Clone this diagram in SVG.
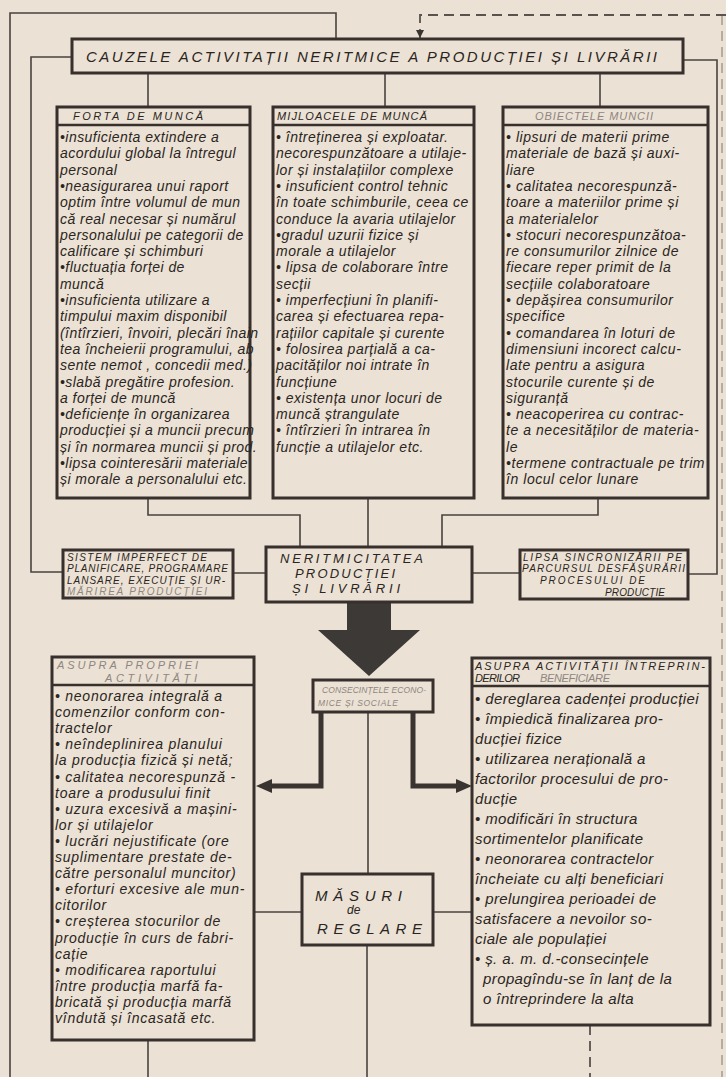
<svg xmlns="http://www.w3.org/2000/svg" width="726" height="1077" viewBox="0 0 726 1077">
<style>
.ln{fill:none;stroke:#4a433f;stroke-width:1.6}
.dl{fill:none;stroke:#5a524d;stroke-width:1.8;stroke-dasharray:10 6}
.bx{fill:none;stroke:#37302d;stroke-width:3}
.dv{stroke:#37302d;stroke-width:2.5}
.ta{fill:none;stroke:#3a3431;stroke-width:5}
text{font-family:'Liberation Sans',Arial,sans-serif;font-style:italic;fill:#2a2522}
.b{font-size:14px;letter-spacing:0.8px}
.h{font-size:11px}
.c{font-size:10px}
.f{fill:#8e8680}
</style>
<defs>
<marker id="ah" viewBox="0 0 10 10" refX="10" refY="5" markerWidth="8" markerHeight="8" markerUnits="userSpaceOnUse" orient="auto"><path d="M0,0L10,5L0,10z" fill="#3a3431"/></marker>
<marker id="ahb" viewBox="0 0 16 14" refX="6" refY="7" markerWidth="16" markerHeight="14" markerUnits="userSpaceOnUse" orient="auto"><path d="M0,0L16,7L0,14z" fill="#3a3431"/></marker>
</defs>
<rect width="726" height="1077" fill="#ebe1d4"/>
<g id="connectors">
<polyline class="ln" points="10,1077 10,13 336,13 336,39"/>
<polyline class="ln" points="72,57 31,57 31,572 63,572"/>
<polyline class="ln" points="683,60 717,60 717,574 688,574"/>
<polyline class="dl" points="726,15 420,15 420,38" marker-end="url(#ah)"/>
<line class="dl" x1="722" y1="15" x2="722" y2="1077" style="stroke-width:1.2;opacity:0.6"/>
<line class="ln" x1="148" y1="73" x2="148" y2="107"/>
<line class="ln" x1="385" y1="73" x2="385" y2="107"/>
<line class="ln" x1="600" y1="73" x2="600" y2="107"/>
<polyline class="ln" points="148,498 148,515 300,515 300,547"/>
<line class="ln" x1="368" y1="498" x2="368" y2="547"/>
<polyline class="ln" points="598,498 598,515 442,515 442,547"/>
<line class="ln" x1="233" y1="573" x2="266" y2="573"/>
<line class="ln" x1="472" y1="573" x2="520" y2="573"/>
<polygon points="347,602 391,602 391,630 420,630 369,676 318,630 347,630" fill="#3d3937"/>
<polyline class="ta" points="321,712 321,786 266,786" marker-end="url(#ahb)"/>
<polyline class="ta" points="413,712 413,786 462,786" marker-end="url(#ahb)"/>
<line class="ln" x1="368" y1="712" x2="368" y2="874"/>
<line class="ln" x1="254" y1="912" x2="302" y2="912"/>
<line class="ln" x1="433" y1="912" x2="472" y2="912"/>
<line class="ln" x1="367" y1="945" x2="367" y2="1077"/>
<line class="ln" x1="148" y1="1040" x2="148" y2="1077"/>
<line class="dl" x1="590" y1="1025" x2="590" y2="1077"/>
</g>
<g id="title">
<rect class="bx" x="72" y="39" width="611" height="34"/>
<text x="86" y="62" font-size="15" textLength="571" lengthAdjust="spacing">CAUZELE ACTIVITAȚII NERITMICE A PRODUCȚIEI ȘI LIVRĂRII</text>
</g>
<g id="forta">
<rect class="bx" x="57" y="107" width="193" height="391"/>
<line class="dv" x1="57" y1="125" x2="250" y2="125"/>
<text class="h" x="73" y="120" textLength="130" lengthAdjust="spacing">FORTA DE MUNCĂ</text>
<text class="b" style="letter-spacing:0.45px">
<tspan x="60" y="142">•insuficienta extindere a</tspan>
<tspan x="60" y="158">acordului global la întregul</tspan>
<tspan x="60" y="175">personal</tspan>
<tspan x="60" y="191">•neasigurarea unui raport</tspan>
<tspan x="60" y="207">optim între volumul de mun</tspan>
<tspan x="60" y="224">că real necesar și numărul</tspan>
<tspan x="60" y="240">personalului pe categorii de</tspan>
<tspan x="60" y="256">calificare și schimburi</tspan>
<tspan x="60" y="272">•fluctuația forței de</tspan>
<tspan x="60" y="289">muncă</tspan>
<tspan x="60" y="305">•insuficienta utilizare a</tspan>
<tspan x="60" y="321">timpului maxim disponibil</tspan>
<tspan x="60" y="338">(întîrzieri, învoiri, plecări înain</tspan>
<tspan x="60" y="354">tea încheierii programului, ab</tspan>
<tspan x="60" y="370">sente nemot , concedii med.)</tspan>
<tspan x="60" y="387">•slabă pregătire profesion.</tspan>
<tspan x="60" y="403">a forței de muncă</tspan>
<tspan x="60" y="419">•deficiențe în organizarea</tspan>
<tspan x="60" y="435">producției și a muncii precum</tspan>
<tspan x="60" y="452">și în normarea muncii și prod.</tspan>
<tspan x="60" y="468">•lipsa cointeresării materiale</tspan>
<tspan x="60" y="484">și morale a personalului etc.</tspan>
</text>
</g>
<g id="mijloacele">
<rect class="bx" x="273" y="107" width="201" height="391"/>
<line class="dv" x1="273" y1="125" x2="474" y2="125"/>
<text class="h" x="277" y="120" textLength="150" lengthAdjust="spacing">MIJLOACELE DE MUNCĂ</text>
<text class="b" style="letter-spacing:0.5px">
<tspan x="276" y="142">• întreținerea și exploatar.</tspan>
<tspan x="276" y="158">necorespunzătoare a utilaje-</tspan>
<tspan x="276" y="175">lor și instalațiilor complexe</tspan>
<tspan x="276" y="191">• insuficient control tehnic</tspan>
<tspan x="276" y="207">în toate schimburile, ceea ce</tspan>
<tspan x="276" y="224">conduce la avaria utilajelor</tspan>
<tspan x="276" y="240">•gradul uzurii fizice și</tspan>
<tspan x="276" y="256">morale a utilajelor</tspan>
<tspan x="276" y="272">• lipsa de colaborare între</tspan>
<tspan x="276" y="289">secții</tspan>
<tspan x="276" y="305">• imperfecțiuni în planifi-</tspan>
<tspan x="276" y="321">carea și efectuarea repa-</tspan>
<tspan x="276" y="338">rațiilor capitale și curente</tspan>
<tspan x="276" y="354">• folosirea parțială a ca-</tspan>
<tspan x="276" y="370">pacităților noi intrate în</tspan>
<tspan x="276" y="387">funcțiune</tspan>
<tspan x="276" y="403">• existența unor locuri de</tspan>
<tspan x="276" y="419">muncă ștrangulate</tspan>
<tspan x="276" y="435">• întîrzieri în intrarea în</tspan>
<tspan x="276" y="452">funcție a utilajelor etc.</tspan>
</text>
</g>
<g id="obiectele">
<rect class="bx" x="503" y="107" width="205" height="391"/>
<line class="dv" x1="503" y1="125" x2="708" y2="125"/>
<text class="h f" x="535" y="120" textLength="118" lengthAdjust="spacing">OBIECTELE MUNCII</text>
<text class="b" style="letter-spacing:0.55px">
<tspan x="506" y="142">• lipsuri de materii prime</tspan>
<tspan x="506" y="158">materiale de bază și auxi-</tspan>
<tspan x="506" y="175">liare</tspan>
<tspan x="506" y="191">• calitatea necorespunză-</tspan>
<tspan x="506" y="207">toare a materiilor prime și</tspan>
<tspan x="506" y="224">a materialelor</tspan>
<tspan x="506" y="240">• stocuri necorespunzătoa-</tspan>
<tspan x="506" y="256">re consumurilor zilnice de</tspan>
<tspan x="506" y="272">fiecare reper primit de la</tspan>
<tspan x="506" y="289">secțiile colaboratoare</tspan>
<tspan x="506" y="305">• depășirea consumurilor</tspan>
<tspan x="506" y="321">specifice</tspan>
<tspan x="506" y="338">• comandarea în loturi de</tspan>
<tspan x="506" y="354">dimensiuni incorect calcu-</tspan>
<tspan x="506" y="370">late pentru a asigura</tspan>
<tspan x="506" y="387">stocurile curente și de</tspan>
<tspan x="506" y="403">siguranță</tspan>
<tspan x="506" y="419">• neacoperirea cu contrac-</tspan>
<tspan x="506" y="435">te a necesităților de materia-</tspan>
<tspan x="506" y="452">le</tspan>
<tspan x="506" y="468">•termene contractuale pe trim</tspan>
<tspan x="506" y="484">în locul celor lunare</tspan>
</text>
</g>
<g id="sistem">
<rect class="bx" x="63" y="550" width="170" height="48"/>
<text class="c" x="67" y="561" textLength="140" lengthAdjust="spacing">SISTEM IMPERFECT DE</text>
<text class="c" x="67" y="572" textLength="161" lengthAdjust="spacing">PLANIFICARE, PROGRAMARE</text>
<text class="c" x="67" y="584" textLength="158" lengthAdjust="spacing">LANSARE, EXECUȚIE ȘI UR-</text>
<text class="c f" x="67" y="595" textLength="140" lengthAdjust="spacing">MĂRIREA PRODUCȚIEI</text>
</g>
<g id="neritmicitatea">
<rect class="bx" x="266" y="547" width="206" height="55"/>
<text x="280" y="563" font-size="13" textLength="143" lengthAdjust="spacing">NERITMICITATEA</text>
<text x="295" y="578" font-size="13" textLength="100" lengthAdjust="spacing">PRODUCȚIEI</text>
<text x="292" y="593" font-size="13" textLength="108" lengthAdjust="spacing">ȘI LIVRĂRII</text>
</g>
<g id="lipsa">
<rect class="bx" x="520" y="550" width="168" height="49"/>
<text class="c" x="523" y="561" textLength="159" lengthAdjust="spacing">LIPSA SINCRONIZĂRII PE</text>
<text class="c" x="522" y="572" textLength="163" lengthAdjust="spacing">PARCURSUL DESFĂȘURĂRII</text>
<text class="c" x="540" y="584" textLength="105" lengthAdjust="spacing">PROCESULUI DE</text>
<text class="c" x="605" y="596" textLength="60" lengthAdjust="spacing">PRODUCȚIE</text>
</g>
<g id="consecintele">
<rect class="bx" x="313" y="680" width="120" height="32"/>
<text class="f" x="322" y="693" font-size="8.5" textLength="104" lengthAdjust="spacing">CONSECINȚELE ECONO-</text>
<text class="f" x="318" y="706" font-size="8.5" textLength="80" lengthAdjust="spacing">MICE ȘI SOCIALE</text>
</g>
<g id="asupra-propriei">
<rect class="bx" x="52" y="657" width="202" height="383"/>
<line class="dv" x1="52" y1="685" x2="254" y2="685"/>
<text class="h f" x="57" y="669" textLength="141" lengthAdjust="spacing">ASUPRA PROPRIEI</text>
<text class="h f" x="105" y="682" textLength="92" lengthAdjust="spacing">ACTIVITĂȚI</text>
<text class="b" style="letter-spacing:0.75px">
<tspan x="55" y="701">• neonorarea integrală a</tspan>
<tspan x="55" y="717">comenzilor conform con-</tspan>
<tspan x="55" y="733">tractelor</tspan>
<tspan x="55" y="749">• neîndeplinirea planului</tspan>
<tspan x="55" y="765">la producția fizică și netă;</tspan>
<tspan x="55" y="782">• calitatea necorespunză -</tspan>
<tspan x="55" y="798">toare a produsului finit</tspan>
<tspan x="55" y="814">• uzura excesivă a mașini-</tspan>
<tspan x="55" y="830">lor și utilajelor</tspan>
<tspan x="55" y="846">• lucrări nejustificate  (ore</tspan>
<tspan x="55" y="862">suplimentare prestate de-</tspan>
<tspan x="55" y="878">către personalul muncitor)</tspan>
<tspan x="55" y="894">• eforturi excesive ale mun-</tspan>
<tspan x="55" y="910">citorilor</tspan>
<tspan x="55" y="926">• creșterea stocurilor de</tspan>
<tspan x="55" y="943">producție în curs de fabri-</tspan>
<tspan x="55" y="959">cație</tspan>
<tspan x="55" y="975">• modificarea raportului</tspan>
<tspan x="55" y="991">între producția marfă fa-</tspan>
<tspan x="55" y="1007">bricată și producția marfă</tspan>
<tspan x="55" y="1023">vîndută și încasată etc.</tspan>
</text>
</g>
<g id="asupra-activitatii">
<rect class="bx" x="472" y="658" width="238" height="367"/>
<line class="dv" x1="472" y1="686" x2="710" y2="686"/>
<text class="h" x="475" y="670" textLength="230" lengthAdjust="spacing">ASUPRA ACTIVITĂȚII ÎNTREPRIN-</text>
<text class="h" x="475" y="682" textLength="45" lengthAdjust="spacing">DERILOR</text>
<text class="h f" x="540" y="682" textLength="70" lengthAdjust="spacing">BENEFICIARE</text>
<text class="b" style="font-size:15px;letter-spacing:0.4px">
<tspan x="475" y="704">• dereglarea cadenței producției</tspan>
<tspan x="475" y="724">• împiedică finalizarea pro-</tspan>
<tspan x="475" y="744">ducției fizice</tspan>
<tspan x="475" y="764">• utilizarea nerațională a</tspan>
<tspan x="475" y="784">factorilor procesului de pro-</tspan>
<tspan x="475" y="804">ducție</tspan>
<tspan x="475" y="824">• modificări în structura</tspan>
<tspan x="475" y="844">sortimentelor planificate</tspan>
<tspan x="475" y="864">• neonorarea contractelor</tspan>
<tspan x="475" y="884">încheiate cu alți beneficiari</tspan>
<tspan x="475" y="904">• prelungirea perioadei de</tspan>
<tspan x="475" y="924">satisfacere a nevoilor so-</tspan>
<tspan x="475" y="944">ciale ale populației</tspan>
<tspan x="475" y="964">• ș. a. m. d.-consecințele</tspan>
<tspan x="483" y="984">propagîndu-se în lanț de la</tspan>
<tspan x="483" y="1004">o întreprindere la alta</tspan>
</text>
</g>
<g id="masuri">
<rect class="bx" x="302" y="874" width="131" height="71"/>
<text x="315" y="901" font-size="15" textLength="87" lengthAdjust="spacing">MĂSURI</text>
<text x="347" y="914" font-size="12">de</text>
<text x="317" y="934" font-size="15" textLength="105" lengthAdjust="spacing">REGLARE</text>
</g>
</svg>
